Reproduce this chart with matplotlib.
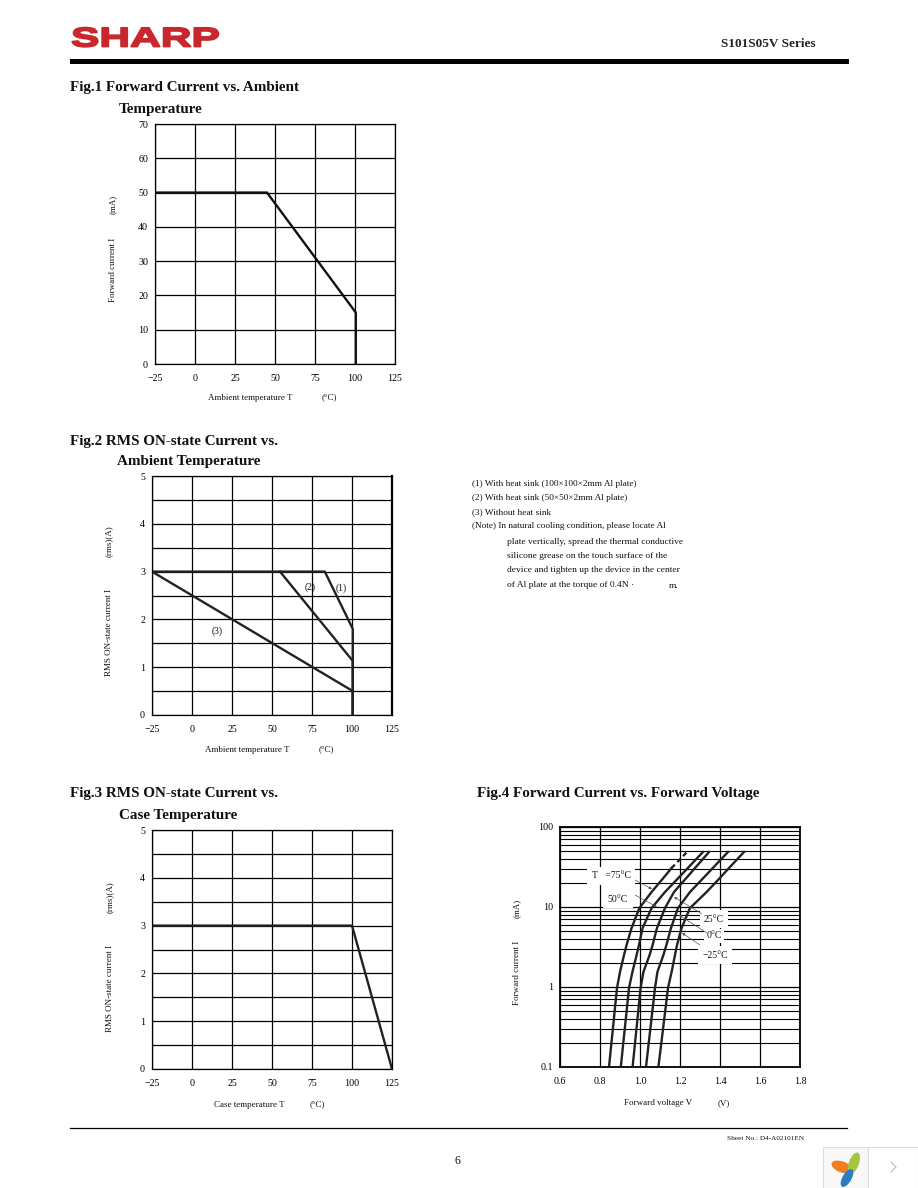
import numpy as np
import matplotlib
matplotlib.use('Agg')
import matplotlib.pyplot as plt
from matplotlib.patches import Rectangle, Ellipse
from matplotlib.patheffects import AbstractPathEffect
from matplotlib.transforms import Affine2D

plt.rcParams['font.family'] = ['Liberation Serif', 'DejaVu Sans']

# fig 1
f1_temp = [-25, 45, 100.5, 100.5]
f1_curr = [50, 50, 15, 0]

# fig 2
f2_temp_1 = [-25, 83, 100.5, 100.5]
f2_curr_1 = [3, 3, 1.8, 0]
f2_temp_2 = [55, 100.5, 100.5]
f2_curr_2 = [3, 1.13, 0]
f2_temp_3 = [-25, 100.5, 100.5]
f2_curr_3 = [3, 0.5, 0]

# fig 3
f3_temp = [-25, 100, 125]
f3_curr = [3, 3, 0]

# fig 4, same current levels for all the curves
f4_curr = [0.1, 0.97, 1.54, 2.51, 3.35, 5.47, 9.7, 15.4, 23, 30.7, 41, 48.7]
f4_volt_75 = [0.845, 0.885, 0.90, 0.92, 0.933, 0.958, 0.997, 1.058, 1.1165, 1.158]
f4_curr_75_dash = [30.7, 48.7]
f4_volt_75_dash = [1.158, 1.235]
f4_volt_50 = [0.904, 0.945, 0.962, 0.983, 0.995, 1.013, 1.058, 1.125, 1.1915, 1.239, 1.2865, 1.315]
f4_volt_25 = [0.963, 1.003, 1.017, 1.048, 1.063, 1.085, 1.125, 1.17, 1.2315, 1.275, 1.319, 1.345]
f4_volt_0 = [1.03, 1.075, 1.087, 1.117, 1.132, 1.155, 1.19, 1.25, 1.3165, 1.364, 1.4115, 1.44]
f4_volt_m25 = [1.092, 1.14, 1.158, 1.175, 1.185, 1.208, 1.25, 1.333, 1.399, 1.445, 1.492, 1.52]

temp_ticks = [-25, 0, 25, 50, 75, 100, 125]
temp_labels = ['\u221225', '0', '25', '50', '75', '100', '125']

notes = ['(1) With heat sink (100\u00d7100\u00d72mm Al plate)',
         '(2) With heat sink (50\u00d750\u00d72mm Al plate)',
         '(3) Without heat sink',
         '(Note) In natural cooling condition, please locate Al']
notes_indent = ['plate vertically, spread the thermal conductive',
                'silicone grease on the touch surface of the',
                'device and tighten up the device in the center',
                'of Al plate at the torque of 0.4N \u00b7']

W, H = 918, 1188
fig = plt.figure(figsize=(W / 100, H / 100), dpi=100)


def px_axes(left, top, right, bottom):
    return fig.add_axes([left / W, 1 - bottom / H, (right - left) / W, (bottom - top) / H])


def temp_axes(box, ymax, ystep, ylabels):
    ax = px_axes(*box)
    ax.set_xlim(-25, 125)
    ax.set_ylim(0, ymax)
    ax.set_xticks(temp_ticks, temp_labels)
    ax.set_yticks(np.arange(0, ymax + ystep, ystep))
    ax.set_yticklabels(ylabels)
    ax.grid(color='black', lw=0.9)
    ax.set_axisbelow(True)
    ax.tick_params(length=0, labelsize=7.2, pad=7)
    ax.tick_params(axis='y', pad=5)
    for s in ax.spines.values():
        s.set_linewidth(0.9)
    return ax


lw = 1.7

ax1 = temp_axes((155, 124, 395, 364), 70, 10, ['0', '10', '20', '30', '40', '50', '60', '70'])
ax1.plot(f1_temp, f1_curr, color='#111111', lw=lw, solid_joinstyle='miter')

half_labels = ['0', '', '1', '', '2', '', '3', '', '4', '', '5']
ax2 = temp_axes((152, 476, 392, 715), 5, 0.5, half_labels)
ax2.plot(f2_temp_1, f2_curr_1, color='#222222', lw=lw, solid_joinstyle='miter')
ax2.plot(f2_temp_2, f2_curr_2, color='#222222', lw=lw, solid_joinstyle='miter')
ax2.plot(f2_temp_3, f2_curr_3, color='#222222', lw=lw, solid_joinstyle='miter')
ax2.spines['right'].set_linewidth(1.6)

ax3 = temp_axes((152, 830, 392, 1069), 5, 0.5, half_labels)
ax3.plot(f3_temp, f3_curr, color='#222222', lw=lw, solid_joinstyle='miter')

ax4 = px_axes(560, 827, 800, 1067)
ax4.set_yscale('log')
ax4.set_xlim(0.6, 1.8)
ax4.set_ylim(0.1, 100)
ax4.set_xticks([0.6, 0.8, 1.0, 1.2, 1.4, 1.6, 1.8])
ax4.set_yticks([0.1, 1, 10, 100], ['0.1', '1', '10', '100'])
ax4.grid(which='major', color='black', lw=0.9)
ax4.grid(which='minor', axis='y', color='black', lw=0.8)
ax4.tick_params(which='both', length=0, labelsize=7.2, pad=7)
ax4.tick_params(axis='y', pad=5)
ax4.set_axisbelow(True)
for s in ax4.spines.values():
    s.set_linewidth(1.3)
ax4.plot(f4_volt_75, f4_curr[:10], color='#222222', lw=lw)
ax4.plot(f4_volt_75_dash, f4_curr_75_dash, color='#222222', lw=lw, ls=(0, (2, 1.5)))
ax4.plot(f4_volt_50, f4_curr, color='#222222', lw=lw)
ax4.plot(f4_volt_25, f4_curr, color='#222222', lw=lw)
ax4.plot(f4_volt_0, f4_curr, color='#222222', lw=lw)
ax4.plot(f4_volt_m25, f4_curr, color='#222222', lw=lw)

# page overlay in pixel coordinates
page = fig.add_axes([0, 0, 1, 1], zorder=5)
page.set_xlim(0, W)
page.set_ylim(H, 0)
page.axis('off')


class Stretch(AbstractPathEffect):
    # widen and thicken the logo lettering around its anchor
    def __init__(self, sx, x0, stroke):
        super().__init__()
        self.sx = sx
        self.x0 = x0
        self.stroke = stroke

    def draw_path(self, renderer, gc, tpath, affine, rgbFace=None):
        tr = affine + Affine2D().translate(-self.x0, 0).scale(self.sx, 1).translate(self.x0, 0)
        gc0 = renderer.new_gc()
        gc0.copy_properties(gc)
        gc0.set_linewidth(self.stroke)
        gc0.set_foreground(rgbFace)
        renderer.draw_path(gc0, tpath, tr, rgbFace)
        gc0.restore()


page.text(71, 46.5, 'SHARP', family='Liberation Sans', weight='bold', size=19.5, color='#c8282d',
          va='baseline', path_effects=[Stretch(1.57, 71, 1.3)])
page.add_patch(Rectangle((70, 59), 779, 5, color='black', lw=0))
page.text(816, 44, 'S101S05V Series', ha='right', va='center', size=9.5, weight='bold', color='#222222')


def title(x, y, s):
    page.text(x, y, s, va='center', size=10.9, weight='bold', color='#111111')


title(70, 88, 'Fig.1 Forward Current vs. Ambient')
title(119, 110, 'Temperature')
title(70, 441, 'Fig.2 RMS ON-state Current vs.')
title(117, 462, 'Ambient Temperature')
title(70, 793, 'Fig.3 RMS ON-state Current vs.')
title(119, 815, 'Case Temperature')
title(477, 793, 'Fig.4 Forward Current vs. Forward Voltage')


def small(x, y, s, **kw):
    kw.setdefault('size', 6.5)
    kw.setdefault('va', 'center')
    kw.setdefault('color', '#111111')
    page.text(x, y, s, **kw)


# axis labels, the subscripts are missing in the scan
small(208, 398, 'Ambient temperature T')
small(322, 397, '(\u00b0C)')
small(205, 750, 'Ambient temperature T')
small(319, 749, '(\u00b0C)')
small(214, 1105, 'Case temperature T')
small(310, 1104, '(\u00b0C)')
small(624, 1103, 'Forward voltage V')
small(718, 1103, '(V)')

small(113, 270, 'Forward current I', rotation=90, ha='center')
small(113, 204, '(mA)', rotation=90, ha='center')
small(109, 633, 'RMS ON-state current I', rotation=90, ha='center')
small(109, 541, '(rms)(A)', rotation=90, ha='center')
small(110, 988, 'RMS ON-state current I', rotation=90, ha='center')
small(110, 897, '(rms)(A)', rotation=90, ha='center')
small(517, 973, 'Forward current I', rotation=90, ha='center')
small(517, 908, '(mA)', rotation=90, ha='center')

small(341, 588, '(1)', ha='center', size=7)
small(310, 587, '(2)', ha='center', size=7)
small(217, 631, '(3)', ha='center', size=7)

for i, s in enumerate(notes):
    small(472, 484.5 + 14 * i, s, size=6.7)
for i, s in enumerate(notes_indent):
    small(507, 541.5 + 14.5 * i, s, size=6.8)
small(669, 586, 'm.', size=6.8)

# fig 4 curve labels
box = dict(facecolor='white', edgecolor='none', pad=1.5)
small(611, 876, 'T   =75\u00b0C', ha='center', size=7, bbox=dict(facecolor='white', edgecolor='none', pad=3.5))
small(618, 899, '50\u00b0C', ha='center', size=7, bbox=dict(facecolor='white', edgecolor='none', pad=3.5))
small(714, 919, '25\u00b0C', ha='center', size=7, bbox=dict(facecolor='white', edgecolor='none', pad=3))
small(714, 936, '0\u00b0C', ha='center', size=7, bbox=box)
small(715, 955, '\u221225\u00b0C', ha='center', size=7, bbox=dict(facecolor='white', edgecolor='none', pad=3))
leaders = [((635, 880), (652, 889)), ((635, 895), (657, 907)), ((702, 914), (674, 897)),
           ((707, 933), (679, 915)), ((700, 945), (682, 933))]
for a, b in leaders:
    page.annotate('', xy=b, xytext=a, arrowprops=dict(arrowstyle='-|>', color='#555555', lw=0.5,
                                                     mutation_scale=4, shrinkA=0, shrinkB=0))

# footer
page.plot([70, 847], [1127.5, 1127.5], color='black', lw=0.9)
small(727, 1139, 'Sheet No.: D4-A02101EN', size=5.2)
small(457, 1161, '6', ha='center', size=8.5)

# viewer widget in the corner
page.add_patch(Rectangle((822.5, 1146.5), 95, 42, facecolor='#f8f8f8', edgecolor='#dddddd', lw=0.8))
page.add_patch(Rectangle((868, 1146.5), 50, 42, facecolor='white', edgecolor='#dddddd', lw=0.8))
page.add_patch(Ellipse((842, 1167), 22, 11, angle=20, color='#ee7f22', lw=0))
page.add_patch(Ellipse((854, 1163), 10, 22, angle=20, color='#a8c43c', lw=0))
page.add_patch(Ellipse((847, 1178), 9, 20, angle=30, color='#2b7cc0', lw=0))
page.plot([891, 896, 891], [1162, 1167, 1172], color='#bbbbbb', lw=0.8)

fig.savefig('out.png', dpi=100)
